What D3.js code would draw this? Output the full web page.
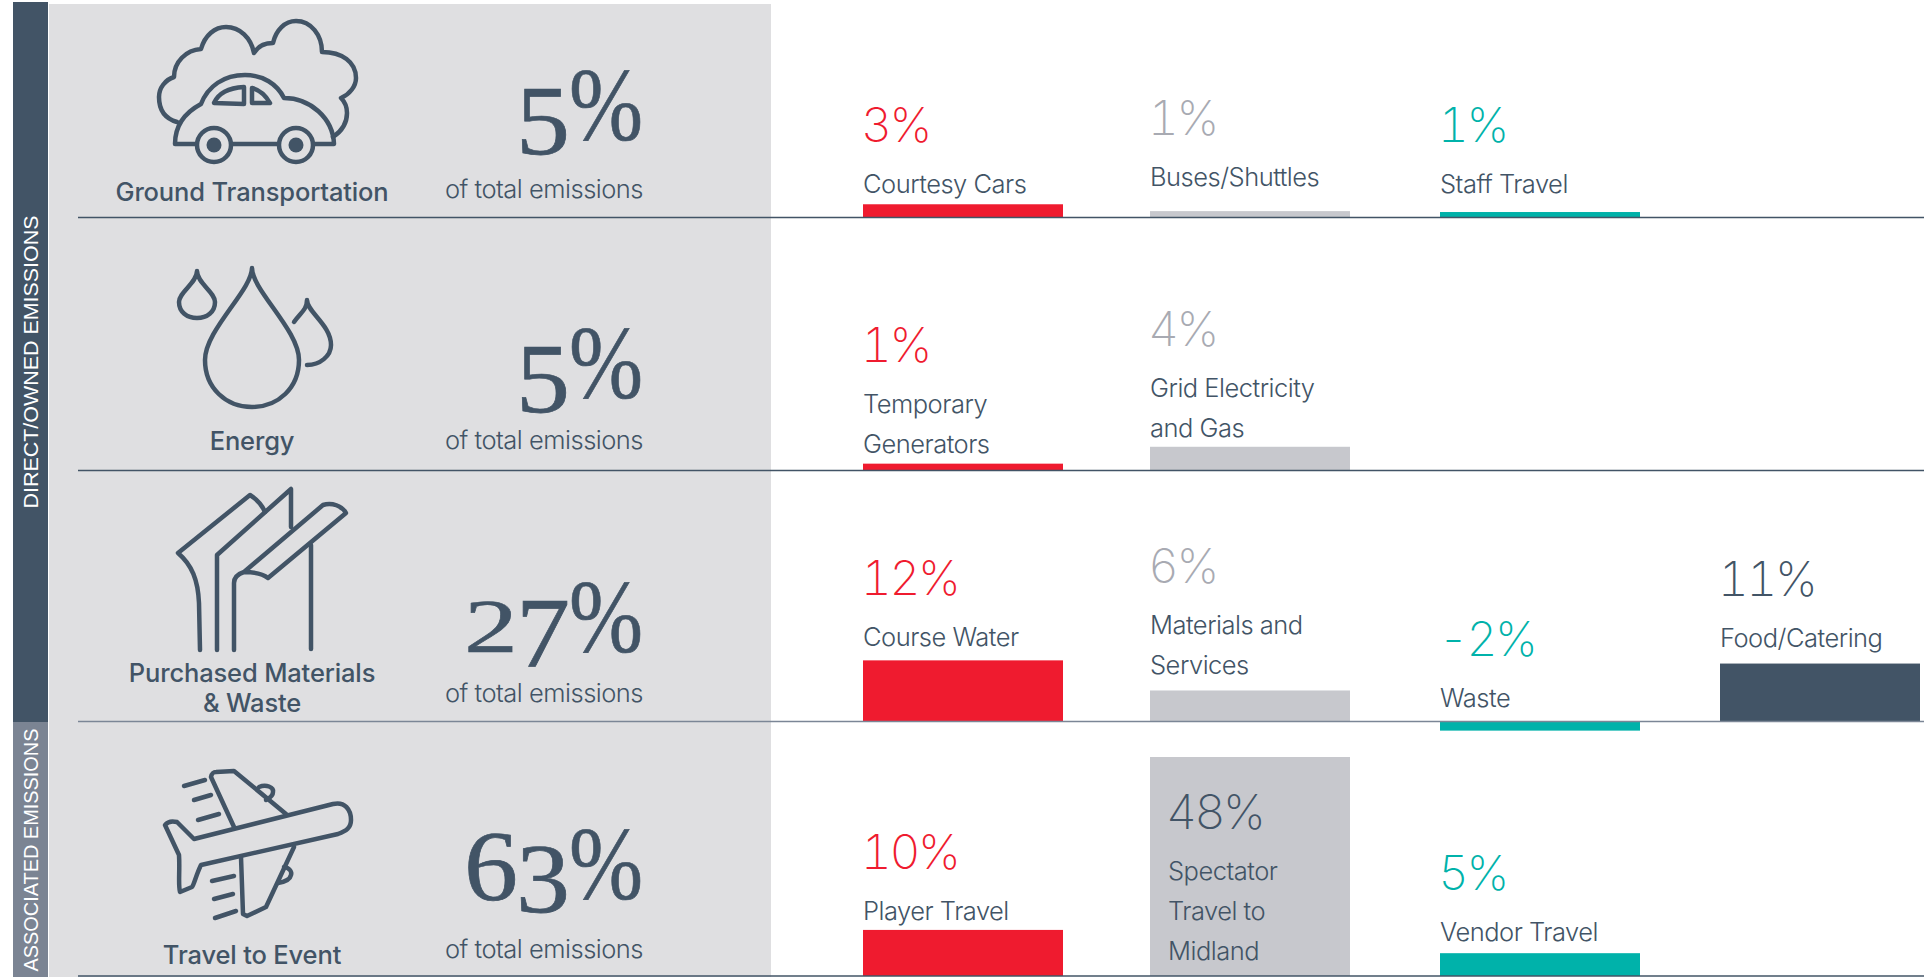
<!DOCTYPE html>
<html>
<head>
<meta charset="utf-8">
<script src="https://cdn.jsdelivr.net/npm/d3@7"></script>
<style>
  html, body { margin: 0; background: #fff; overflow: hidden; }
  text { font-family: Inter, "Liberation Sans", sans-serif; }
  .icon { fill: none; stroke: #425466; stroke-width: 4.5; stroke-linecap: round; stroke-linejoin: round; }
</style>
</head>
<body>
<svg id="chart" width="1924" height="977"></svg>
<script>
const scopes = ["DIRECT/OWNED EMISSIONS", "ASSOCIATED EMISSIONS"]
const categories = [["Ground Transportation"], ["Energy"], ["Purchased Materials", "& Waste"], ["Travel to Event"]]
const categoryShares = ["5", "5", "27", "63"]

const itemNames = [
  ["Courtesy Cars"], ["Buses/Shuttles"], ["Staff Travel"],
  ["Temporary", "Generators"], ["Grid Electricity", "and Gas"],
  ["Course Water"], ["Materials and", "Services"], ["Waste"], ["Food/Catering"],
  ["Player Travel"], ["Spectator", "Travel to", "Midland"], ["Vendor Travel"]
]
const itemRows = [0, 0, 0, 1, 1, 2, 2, 2, 2, 3, 3, 3]
const itemColumns = [0, 1, 2, 0, 1, 0, 1, 2, 3, 0, 1, 2]
const itemLabels = ["3%", "1%", "1%", "1%", "4%", "12%", "6%", "-2%", "11%", "10%", "48%", "5%"]
// bar lengths, they don't follow the printed labels exactly
const itemValues = [2.9, 1.4, 1.2, 1.5, 5.2, 13.4, 6.8, -2, 12.7, 10.1, 48, 5]

// how far the last line of each item's label sits above the row line
const labelLift = [24.5, 31.5, 24.5, 17.5, 33.5, 75.5, 47.5, 14.5, 74.5, 56.5, 16.5, 35.5]

const ink = "#425466"
const barColors = ["#ef1b2f", "#c7c8cd", "#00b2aa", "#425466"]
const numberColors = ["#ef1b2f", "#a8aab2", "#00b2aa", "#425466"]

const svg = d3.select("#chart")

const rowY = d3.scaleOrdinal([0, 1, 2, 3], [217.5, 470.5, 721.5, 976])
const columnX = d3.scaleOrdinal([0, 1, 2, 3], [863, 1150, 1440, 1720])
const barLength = d3.scaleLinear().domain([0, 48]).range([0, 219])

// left panel and scope bands
svg.append("rect").attr("x", 49).attr("y", 4).attr("width", 722).attr("height", 973).attr("fill", "#dfdfe1")
svg.append("rect").attr("x", 13).attr("y", 2).attr("width", 35).attr("height", 720).attr("fill", ink)
svg.append("rect").attr("x", 13).attr("y", 722).attr("width", 35).attr("height", 255).attr("fill", "#7b8493")

svg.selectAll(".scope")
  .data(scopes)
  .join("text")
  .attr("class", "scope")
  .attr("transform", (d, i) => `translate(38,${i ? 850 : 362}) rotate(-90)`)
  .attr("text-anchor", "middle")
  .attr("textLength", (d, i) => i ? 243 : 293)
  .attr("lengthAdjust", "spacingAndGlyphs")
  .attr("fill", "#fff")
  .style("font-family", "Liberation Sans")
  .style("font-size", "20.5px")
  .text(d => d)

// bars, drawn before the row lines so the lines stay on top
svg.selectAll(".bar")
  .data(itemValues)
  .join("rect")
  .attr("class", "bar")
  .attr("x", (d, i) => columnX(itemColumns[i]))
  .attr("y", (d, i) => rowY(itemRows[i]) - Math.max(barLength(d), 0))
  .attr("width", 200)
  .attr("height", d => Math.abs(barLength(d)))
  .attr("fill", (d, i) => barColors[itemColumns[i]])

svg.selectAll(".row-line")
  .data(categories)
  .join("line")
  .attr("class", "row-line")
  .attr("x1", 78)
  .attr("x2", 1924)
  .attr("y1", (d, i) => rowY(i))
  .attr("y2", (d, i) => rowY(i))
  .attr("stroke", (d, i) => i === 2 ? "#7b8696" : ink)
  .attr("stroke-width", 1.5)

// item labels and numbers
itemNames.forEach((lines, i) => {
  const inside = itemValues[i] > 40
  const x = columnX(itemColumns[i]) + (inside ? 18 : 0)
  const lastY = rowY(itemRows[i]) - labelLift[i]
  const firstY = lastY - (lines.length - 1) * 40
  svg.append("g")
    .selectAll("text")
    .data(lines)
    .join("text")
    .attr("x", x)
    .attr("y", (d, j) => firstY + j * 40)
    .attr("fill", ink)
    .style("font-size", "25.5px")
    .style("font-weight", 300)
    .style("letter-spacing", "-0.5px")
    .text(d => d)
  svg.append("text")
    .attr("x", x - 2)
    .attr("y", firstY - 51)
    .attr("fill", inside ? ink : numberColors[itemColumns[i]])
    .style("font-size", "48px")
    .style("font-weight", 200)
    .style("letter-spacing", "-2.5px")
    .style("font-variant-numeric", "tabular-nums")
    .text(itemLabels[i])
})

// category names and the "of total" blocks on the panel
const titleBaselines = [201, 450, 682, 964]
const totalBaselines = [198, 449, 702, 958]
const shareBaselines = [140, 398, 652, 899]

categories.forEach((lines, i) => {
  svg.append("g")
    .selectAll("text")
    .data(lines)
    .join("text")
    .attr("x", 252)
    .attr("y", (d, j) => titleBaselines[i] + j * 30)
    .attr("text-anchor", "middle")
    .attr("fill", ink)
    .style("font-size", "25.5px")
    .style("font-weight", 500)
    .style("letter-spacing", "-0.15px")
    .text(d => d)
  svg.append("text")
    .attr("x", 445)
    .attr("y", totalBaselines[i])
    .attr("fill", ink)
    .style("font-size", "25.5px")
    .style("font-weight", 300)
    .style("letter-spacing", "-0.5px")
    .text("of total emissions")
  drawShare(categoryShares[i], shareBaselines[i])
})

// the reference uses old style figures, so each digit gets its own drop and squash
function drawShare (share, baseline) {
  const drops = {3: 13, 4: 13, 5: 14, 7: 14, 9: 13}
  const squash = {0: 0.76, 1: 0.76, 2: 0.76}
  const serif = "Liberation Serif"
  const g = svg.append("g").attr("fill", ink).attr("stroke", ink).attr("stroke-width", 0.7)
  share.split("").reverse().forEach((digit, k) => {
    g.append("text")
      .attr("transform", `translate(${570 - k * 52},${baseline + (drops[digit] || 0)}) scale(1.08,${squash[digit] || 1})`)
      .attr("text-anchor", "end")
      .style("font-family", serif)
      .style("font-size", "100px")
      .text(digit)
  })
  g.append("text")
    .attr("x", 569)
    .attr("y", baseline)
    .attr("textLength", 74)
    .attr("lengthAdjust", "spacingAndGlyphs")
    .style("font-family", serif)
    .style("font-size", "104px")
    .text("%")
}

// icons
const iconPaths = [
  // car in a cloud
  "M177 122C163 118 159 107 159 97C159 88 165 80 174 77C174 62 186 50 201 49C205 35 215 27 226 27C240 27 251 38 254 53C258 46 265 43 273 43C276 30 285 21 296 21C311 21 322 35 322 52C342 52 356 62 356 78C356 86 350 94 341 98C345 102 347 107 347 113C347 122 342 131 333 137",
  "M196 144L175 144C175 125 186 112 201 104C208 86 224 75 245 75C263 75 277 84 284 98C310 98 333 118 334 144L314 144M232 144L278 144",
  "M214 103C218 94 226 88 244 87L244 104ZM252 88C260 90 266 96 270 103L252 103Z",
  // drops
  "M252 268C252 290 205 330 205 360C205 388 226 407 252 407C278 407 299 388 299 360C299 330 252 290 252 268Z",
  "M197 271C197 283 179 292 179 302C179 312 187 318 197 318C207 318 215 312 215 302C215 292 197 283 197 271Z",
  "M294 322C300 313 307 310 307 300C307 312 331 325 331 345C331 356 320 365 307 365",
  // pipes
  "M200 650L199 603C198 580 192 565 178 553L250 495C258 500 262 505 265 512",
  "M217 650L217 555L291 489L291 527",
  "M234 650L234 583C234 577 238 574 244 572L323 505C332 502 342 506 346 513L268 578C262 573 254 572 244 572",
  "M311 545L311 649",
  // plane
  "M194 839L333 804C345 801 351 810 351 820C351 828 346 831 338 834L201 865C196 875 194 885 192 887L180 892C178 885 180 870 179 855L165 825C168 821 173 821 177 822Z",
  "M234 827L211 777C212 773 213 772 216 772L234 771L286 814",
  "M259 787C266 784 274 787 273 792C273 796 270 798 266 800",
  "M241 857L243 914L247 916L266 907L294 847",
  "M284 867C290 868 292 872 291 875C290 880 284 882 278 883",
  "M184 786L205 780M194 800L211 795M198 820L219 814M212 881L234 876M214 899L233 894M215 918L236 911"
]
svg.selectAll(".icon")
  .data(iconPaths)
  .join("path")
  .attr("class", "icon")
  .attr("d", d => d)

// wheels
const wheelCenters = [214, 296]
svg.selectAll(".wheel")
  .data(wheelCenters)
  .join("circle")
  .attr("class", "wheel icon")
  .attr("cx", d => d)
  .attr("cy", 145)
  .attr("r", 17)
svg.selectAll(".hub")
  .data(wheelCenters)
  .join("circle")
  .attr("class", "hub")
  .attr("cx", d => d)
  .attr("cy", 145)
  .attr("r", 7.5)
  .attr("fill", ink)
</script>
</body>
</html>
